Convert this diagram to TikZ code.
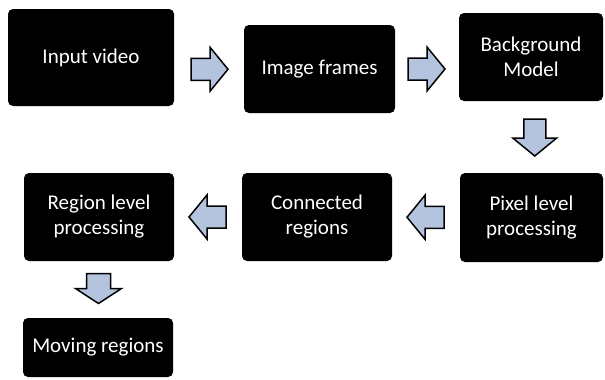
\documentclass[tikz,border=0pt]{standalone}
\usepackage{fontspec}
\setmainfont{Carlito}
\usetikzlibrary{calc}
\definecolor{arrowblue}{HTML}{B4C4DE}
\tikzset{
  x=1pt, y=-1pt,
  box/.style={draw=none, fill=black, rounded corners=5pt, text=white, align=center,
    font=\fontsize{21}{25}\selectfont, inner sep=0pt},
  arrowfill/.style={draw=black, fill=arrowblue, line width=1.5pt, line join=miter},
  pics/blockarrow/.style={code={
    \draw[arrowfill] (-18,-11) -- (1,-11) -- (1,-22) -- (19,0) -- (1,22) -- (1,11) -- (-18,11) -- cycle;}},
  pics/shortarrow/.style={code={
    \draw[arrowfill] (-15,-12) -- (0,-12) -- (0,-23) -- (15,0) -- (0,23) -- (0,12) -- (-15,12) -- cycle;}}
}
\begin{document}
\begin{tikzpicture}
\useasboundingbox (0,0) rectangle (605,380);
\node[box, minimum width=166pt, minimum height=97pt] (vid) at (91,57.5) {Input video};
\node[box, minimum width=151pt, minimum height=88pt] (frm) at (319.5,69) {Image frames};
\node[box, minimum width=144pt, minimum height=88pt] (bg) at (531,57) {Background\\Model};
\node[box, minimum width=143pt, minimum height=89pt] (pix) at (531.5,217.5) {Pixel level\\processing};
\node[box, minimum width=150pt, minimum height=88pt] (con) at (317,217) {Connected\\regions};
\node[box, minimum width=150pt, minimum height=88pt] (reg) at (99,217) {Region level\\processing};
\node[box, minimum width=150pt, minimum height=59pt] (mov) at (98,347.5) {Moving regions};
% connectors (block arrows)
\pic at ($(vid.east)!0.5!(frm.west)+(0,6)$) {blockarrow};
\pic at ($(frm.east)!0.5!(bg.west)+(-1,6)$) {blockarrow};
\pic[rotate=-90] at ($(bg.south)!0.5!(pix.north)+(3.5,0)$) {blockarrow};
\pic[rotate=180] at ($(pix.west)!0.5!(con.east)$) {blockarrow};
\pic[rotate=180] at ($(con.west)!0.5!(reg.east)$) {blockarrow};
\pic[rotate=-90] at ($(reg.south)!0.5!(mov.north)+(0,-1)$) {shortarrow};
\end{tikzpicture}
\end{document}
